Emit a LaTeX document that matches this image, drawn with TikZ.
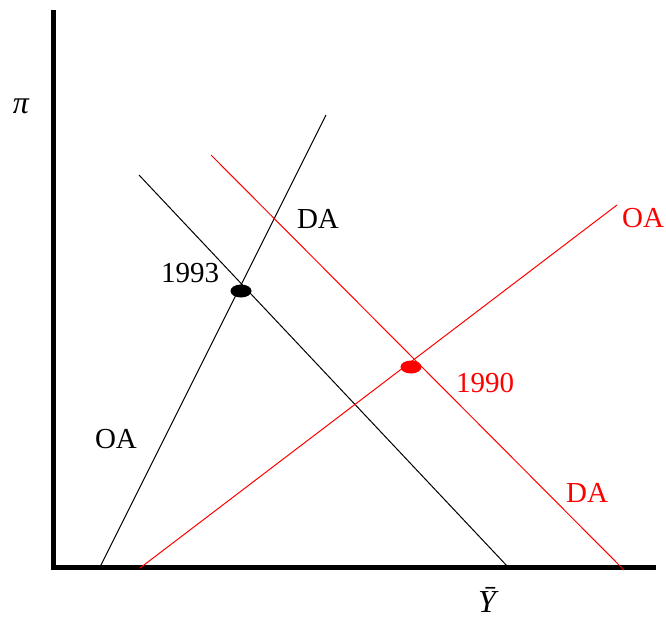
\documentclass[tikz,border=0pt]{standalone}
\usepackage{fontspec}
\setmainfont{Liberation Serif}
\usetikzlibrary{shapes.geometric}
\begin{document}
\begin{tikzpicture}[x=1pt,y=-1pt,
  axis/.style={line width=5pt},
  curve/.style={line width=1pt},
  lbl/.style={font=\fontsize{29}{32}\selectfont, inner sep=0pt},
  sym/.style={font=\fontsize{32}{34}\selectfont\itshape, inner sep=0pt},
  dot/.style={ellipse, minimum width=21pt, minimum height=13pt, inner sep=0pt}]
\useasboundingbox (0,0) rectangle (666,618);
% axes
\coordinate (ytop) at (53,10);
\coordinate (origin) at (53,567);
\coordinate (xend) at (656,567);
\draw[axis] (ytop) -- (origin.center) -- (xend);
% black curves
\coordinate (boa1) at (100,567);
\coordinate (boa2) at (326,115);
\coordinate (bda1) at (139,175);
\coordinate (bda2) at (508,567);
\draw[curve] (boa1) -- (boa2);
\draw[curve] (bda1) -- (bda2);
% red curves
\coordinate (rda1) at (211,155);
\coordinate (rda2) at (624,570);
\coordinate (roa1) at (140,568);
\coordinate (roa2) at (617,205);
\draw[curve,red] (rda1) -- (rda2);
\draw[curve,red] (roa1) -- (roa2);
% dots
\node[dot, fill=black] (d1993) at (241,291) {};
\node[dot, fill=red] (d1990) at (411,367) {};
% labels
\node[sym] (pi) at (21,106) {π};
\node[sym] (ybar) at (487,600) {\={Y}};
\node[lbl] (bda) at (318,219) {DA};
\node[lbl] (y1993) at (190,273) {1993};
\node[lbl] (boa) at (116,439) {OA};
\node[lbl, text=red] (roa) at (643,218) {OA};
\node[lbl, text=red] (y1990) at (485,383) {1990};
\node[lbl, text=red] (rda) at (587,493) {DA};
\end{tikzpicture}
\end{document}
